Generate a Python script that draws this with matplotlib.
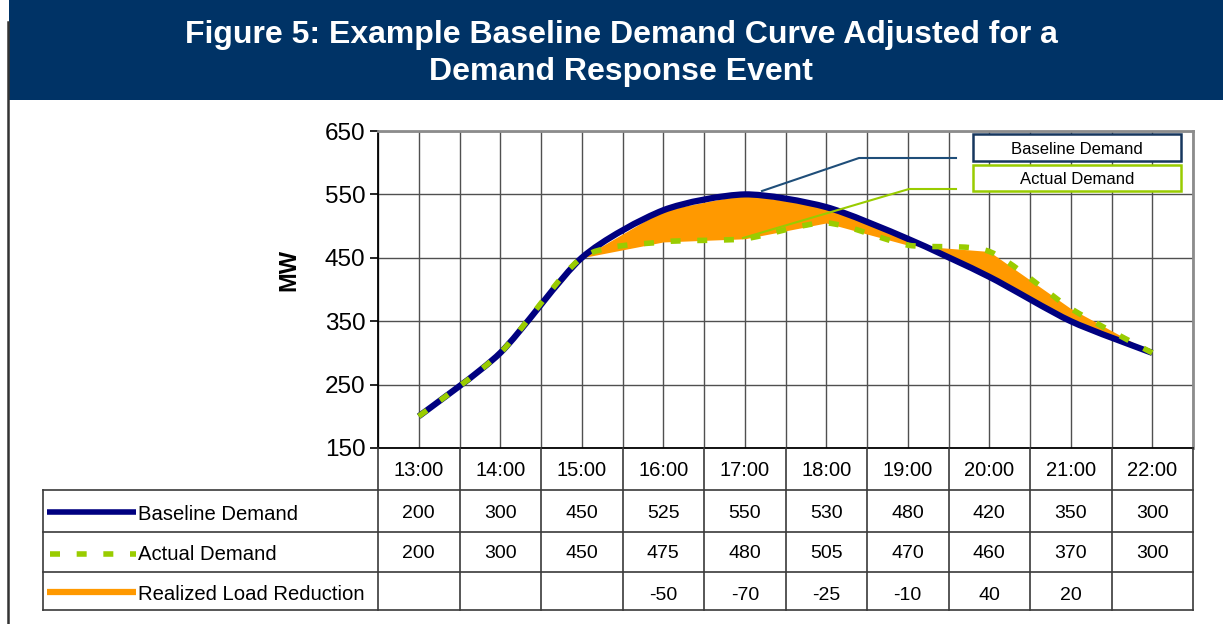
import numpy as np
import matplotlib
matplotlib.use('Agg')
from matplotlib import pyplot as plt
from matplotlib.path import Path
from matplotlib.patches import PathPatch, Rectangle

plt.rcParams['font.family'] = ['Liberation Sans', 'DejaVu Sans']

# data
hours = ['13:00', '14:00', '15:00', '16:00', '17:00',
         '18:00', '19:00', '20:00', '21:00', '22:00']
baseline = [200, 300, 450, 525, 550, 530, 480, 420, 350, 300]
actual = [200, 300, 450, 475, 480, 505, 470, 460, 370, 300]
reduction = [None, None, None, -50, -70, -25, -10, 40, 20, None]
y_ticks = [150, 250, 350, 450, 550, 650]

NAVY = '#000080'
GREEN = '#99CC00'
ORANGE = '#FF9900'
HEADER = '#003366'
GRID = '#505050'

W, H = 1223, 624
# plot area in pixels
PL, PR, PT, PB = 378, 1193, 131, 448
COLW = (PR - PL) / len(hours)


def smooth_path(xs, ys, k=8.0):
    # excel style smoothed line, drawn as cubic bezier segments
    pts = np.column_stack([xs, ys]).astype(float)
    ext = np.vstack([pts[0], pts, pts[-1]])
    verts = [pts[0]]
    codes = [Path.MOVETO]
    for i in range(len(pts) - 1):
        p0, p1, p2, p3 = ext[i], ext[i + 1], ext[i + 2], ext[i + 3]
        c1 = p1 + (p2 - p0) / k
        c2 = p2 - (p3 - p1) / k
        verts += [c1, c2, p2]
        codes += [Path.CURVE4] * 3
    return Path(verts, codes)


fig = plt.figure(figsize=(W / 100, H / 100), dpi=100)

ax = fig.add_axes([PL / W, 1 - PB / H, (PR - PL) / W, (PB - PT) / H])
x = np.arange(len(hours))
ax.set_xlim(-0.5, len(hours) - 0.5)
ax.set_ylim(150, 650)
ax.set_yticks(y_ticks)
ax.tick_params(axis='y', labelsize=17.5, length=6, width=1.2, pad=3, colors='black')
ax.set_xticks(np.arange(-0.5, len(hours), 0.5))
ax.tick_params(axis='x', length=0, labelbottom=False)
ax.grid(True, color=GRID, lw=1.0)
ax.set_axisbelow(True)
ax.set_ylabel('MW', fontsize=17, fontweight='bold')
ax.yaxis.set_label_coords(-0.095, 0.56)
for side in ['top', 'right']:
    ax.spines[side].set_color('#8c8c8c')
    ax.spines[side].set_linewidth(2)
ax.spines['left'].set_linewidth(1.3)
ax.spines['bottom'].set_linewidth(1.3)

ax.fill_between(x, baseline, actual, color=ORANGE, lw=0, zorder=2)
ax.add_patch(PathPatch(smooth_path(x, baseline), fill=False, ec=NAVY,
                       lw=4.5, capstyle='butt', zorder=3))
ax.add_patch(PathPatch(smooth_path(x, actual), fill=False, ec=GREEN,
                       lw=4, linestyle=(0, (1.8, 3.0)), capstyle='butt', zorder=4))

# overlay in pixel coordinates for header, table and callouts
ov = fig.add_axes([0, 0, 1, 1], zorder=5)
ov.set_xlim(0, W)
ov.set_ylim(H, 0)
ov.axis('off')
ov.patch.set_visible(False)

ov.add_patch(Rectangle((9, 0), W - 9, 100, color=HEADER, lw=0))
ov.text(621, 35, 'Figure 5: Example Baseline Demand Curve Adjusted for a',
        color='white', fontsize=23, fontweight='bold', ha='center', va='center')
ov.text(621, 72, 'Demand Response Event',
        color='white', fontsize=23, fontweight='bold', ha='center', va='center')
ov.plot([8, 8], [22, H], color='#333333', lw=1.8)

# callout legend boxes
ov.plot([762, 859, 956], [191, 158, 158], color='#1F4E79', lw=1.5)
ov.plot([743, 909, 956], [238, 189, 189], color=GREEN, lw=1.5)
ov.add_patch(Rectangle((973, 134), 208, 27, fc='white', ec='#17375E', lw=1.8))
ov.text(1077, 149, 'Baseline Demand', fontsize=12, ha='center', va='center')
ov.add_patch(Rectangle((973, 165), 208, 26, fc='white', ec=GREEN, lw=1.8))
ov.text(1077, 180, 'Actual Demand', fontsize=12, ha='center', va='center')

# data table
TL = 43
row_lines = [490, 532, 572, 610]
line_kw = dict(color='#3a3a3a', lw=1.2)
for yy in row_lines:
    ov.plot([TL, PR], [yy, yy], **line_kw)
ov.plot([TL, TL], [row_lines[0], row_lines[-1]], **line_kw)
for i in range(len(hours) + 1):
    xx = PL + i * COLW
    ov.plot([xx, xx], [PB, row_lines[-1]], **line_kw)

centers = PL + (np.arange(len(hours)) + 0.5) * COLW
for cx, h in zip(centers, hours):
    ov.text(cx, 471, h, fontsize=14.5, ha='center', va='center')

row_y = [514, 554, 595]
for cx, b, a, r in zip(centers, baseline, actual, reduction):
    ov.text(cx, row_y[0], str(b), fontsize=14, ha='center', va='center')
    ov.text(cx, row_y[1], str(a), fontsize=14, ha='center', va='center')
    if r is not None:
        ov.text(cx, row_y[2], str(r), fontsize=14, ha='center', va='center')

series_names = ['Baseline Demand', 'Actual Demand', 'Realized Load Reduction']
ov.plot([47, 136], [512, 512], color=NAVY, lw=4, solid_capstyle='butt')
ov.plot([50, 136], [554, 554], color=GREEN, lw=4,
        linestyle=(0, (1.8, 3.0)), dash_capstyle='butt')
ov.plot([47, 136], [592, 592], color=ORANGE, lw=4.5, solid_capstyle='butt')
for yy, name in zip(row_y, series_names):
    ov.text(138, yy, name, fontsize=14.6, ha='left', va='center')

fig.savefig('out.png', dpi=100)
